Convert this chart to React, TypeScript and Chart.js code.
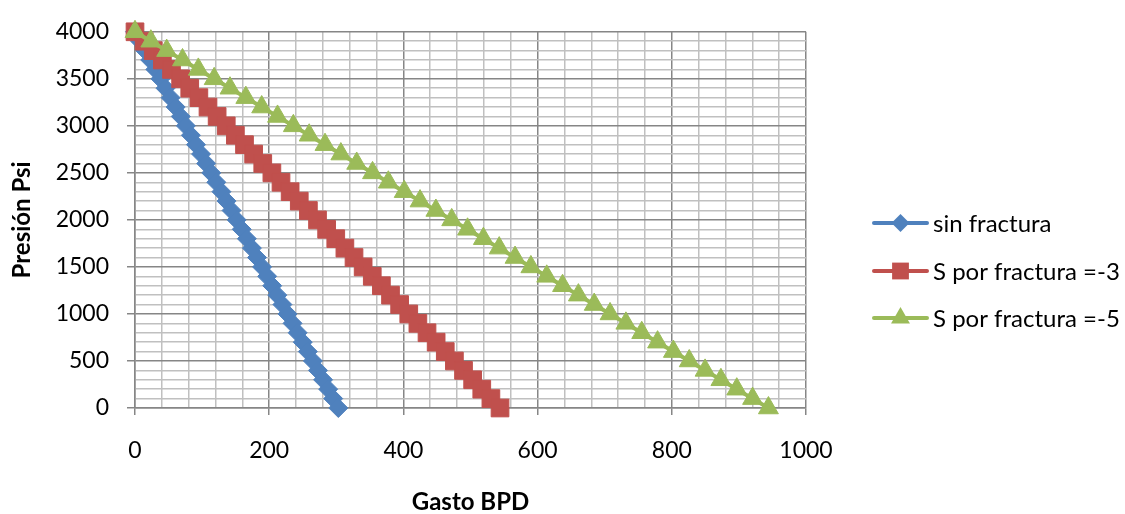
import React, { useEffect, useRef } from "react";
import { Chart, registerables } from "chart.js";

Chart.register(...registerables);

// Presión (psi) for each point, top to bottom
const presion = [
  4000, 3900, 3800, 3700, 3600, 3500, 3400, 3300, 3200, 3100,
  3000, 2900, 2800, 2700, 2600, 2500, 2400, 2300, 2200, 2100,
  2000, 1900, 1800, 1700, 1600, 1500, 1400, 1300, 1200, 1100,
  1000, 900, 800, 700, 600, 500, 400, 300, 200, 100, 0,
];

// Gasto (BPD) — sin fractura
const gastoSinFractura = [
  0, 7.6, 15.2, 22.7, 30.3, 37.9, 45.5, 53.0, 60.6, 68.2,
  75.8, 83.3, 90.9, 98.5, 106.1, 113.6, 121.2, 128.8, 136.4, 143.9,
  151.5, 159.1, 166.7, 174.2, 181.8, 189.4, 197.0, 204.5, 212.1, 219.7,
  227.3, 234.8, 242.4, 250.0, 257.6, 265.1, 272.7, 280.3, 287.9, 295.4, 303.0,
];

// Gasto (BPD) — S por fractura = -3
const gastoS3 = [
  0, 13.6, 27.2, 40.8, 54.4, 68.0, 81.6, 95.2, 108.8, 122.4,
  136.0, 149.6, 163.2, 176.8, 190.4, 204.0, 217.6, 231.2, 244.8, 258.4,
  272.0, 285.6, 299.2, 312.8, 326.4, 340.0, 353.6, 367.2, 380.8, 394.4,
  408.0, 421.6, 435.2, 448.8, 462.4, 476.0, 489.6, 503.2, 516.8, 530.4, 544.0,
];

// Gasto (BPD) — S por fractura = -5
const gastoS5 = [
  0, 23.6, 47.2, 70.8, 94.4, 118.0, 141.6, 165.2, 188.8, 212.4,
  236.0, 259.6, 283.2, 306.8, 330.4, 354.0, 377.6, 401.2, 424.8, 448.4,
  472.0, 495.6, 519.2, 542.8, 566.4, 590.0, 613.6, 637.2, 660.8, 684.4,
  708.0, 731.6, 755.2, 778.8, 802.4, 826.0, 849.6, 873.2, 896.8, 920.4, 944.0,
];

const seriesNames = ["sin fractura", "S por fractura =-3", "S por fractura =-5"];
const seriesColors = ["#4F81BD", "#C0504D", "#9BBB59"];
const seriesMarkers = ["rectRot", "rect", "triangle"];
const seriesRadius = [9.5, 12.5, 11.5];

const xTitle = "Gasto BPD";
const yTitle = "Presión Psi";
const xMajorStep = 200;
const xMinorStep = 40;
const yMajorStep = 500;
const yMinorStep = 100;

const FONT = "Lato, 'Open Sans', sans-serif";
const MAJOR = "#868686";
const MINOR = "#C0C0C0";

function drawMarker(ctx: CanvasRenderingContext2D, kind: string, x: number, y: number, r: number) {
  ctx.beginPath();
  if (kind === "rectRot") {
    ctx.moveTo(x - r, y);
    ctx.lineTo(x, y - r);
    ctx.lineTo(x + r, y);
    ctx.lineTo(x, y + r);
  } else if (kind === "rect") {
    const s = Math.SQRT1_2 * r;
    ctx.rect(x - s, y - s, 2 * s, 2 * s);
  } else {
    const h = r;
    ctx.moveTo(x, y - h);
    ctx.lineTo(x + Math.sin((2 * Math.PI) / 3) * h, y - Math.cos((2 * Math.PI) / 3) * h);
    ctx.lineTo(x + Math.sin((4 * Math.PI) / 3) * h, y - Math.cos((4 * Math.PI) / 3) * h);
  }
  ctx.closePath();
  ctx.fill();
}

const legendPlugin = {
  id: "customLegend",
  afterDraw(chart: any) {
    const ctx = chart.ctx as CanvasRenderingContext2D;
    const ys = [223, 271, 318];
    ctx.save();
    seriesNames.forEach((name, i) => {
      const y = ys[i];
      ctx.strokeStyle = seriesColors[i];
      ctx.lineWidth = 4;
      ctx.lineCap = "round";
      ctx.beginPath();
      ctx.moveTo(874, y);
      ctx.lineTo(927, y);
      ctx.stroke();
      ctx.fillStyle = seriesColors[i];
      drawMarker(ctx, seriesMarkers[i], 900.5, y, seriesRadius[i] * 0.95);
      ctx.fillStyle = "#000";
      ctx.font = `24px ${FONT}`;
      ctx.textBaseline = "middle";
      ctx.textAlign = "left";
      ctx.fillText(name, 933, y + 1);
    });
    ctx.restore();
  },
};

const isMajor = (v: number, step: number) => Math.abs(Math.round(v) % step) < 1e-6;

export default function App() {
  const canvasRef = useRef<HTMLCanvasElement | null>(null);

  useEffect(() => {
    document.body.style.margin = "0";
    const canvas = canvasRef.current;
    if (!canvas) return;
    const seriesX = [gastoSinFractura, gastoS3, gastoS5];
    const datasets = seriesNames.map((name, i) => ({
      label: name,
      data: presion.map((p, k) => ({ x: seriesX[i][k], y: p })),
      borderColor: seriesColors[i],
      backgroundColor: seriesColors[i],
      borderWidth: 4,
      pointStyle: seriesMarkers[i],
      pointRadius: seriesRadius[i],
      pointBorderWidth: 1,
      pointBorderColor: seriesColors[i],
      pointBackgroundColor: seriesColors[i],
      tension: 0,
      clip: false as any,
      order: 3 - i,
    }));

    const chart = new Chart(canvas, {
      type: "line",
      data: { datasets },
      plugins: [legendPlugin],
      options: {
        animation: false,
        responsive: false,
        maintainAspectRatio: false,
        layout: { padding: { left: 0, right: 319, top: 22, bottom: 0 } },
        plugins: { legend: { display: false }, tooltip: { enabled: false } },
        scales: {
          x: {
            type: "linear",
            min: 0,
            max: 1000,
            ticks: {
              stepSize: xMinorStep,
              autoSkip: false,
              maxRotation: 0,
              padding: 22,
              color: "#000",
              font: { family: FONT, size: 23 },
              callback: (v: any) => (isMajor(Number(v), xMajorStep) ? String(Math.round(Number(v))) : ""),
            },
            grid: {
              color: (c: any) => (isMajor(c.tick.value, xMajorStep) ? MAJOR : MINOR),
              tickColor: (c: any) => (isMajor(c.tick.value, xMajorStep) ? MAJOR : "rgba(0,0,0,0)"),
              lineWidth: 1.5,
              tickLength: 7,
              tickWidth: 1.5,
            },
            border: { color: MAJOR, width: 1.5 },
            title: {
              display: true,
              text: xTitle,
              color: "#000",
              font: { family: FONT, size: 24, weight: "bold", lineHeight: 1.0 },
              padding: { top: 0, bottom: 0 },
            },
            afterFit: (s: any) => {
              s.height = 106;
            },
          },
          y: {
            type: "linear",
            min: 0,
            max: 4000,
            ticks: {
              stepSize: yMinorStep,
              autoSkip: false,
              padding: 18,
              color: "#000",
              font: { family: FONT, size: 23 },
              callback: (v: any) => (isMajor(Number(v), yMajorStep) ? String(Math.round(Number(v))) : ""),
            },
            grid: {
              color: (c: any) => (isMajor(c.tick.value, yMajorStep) ? MAJOR : MINOR),
              tickColor: (c: any) => (isMajor(c.tick.value, yMajorStep) ? MAJOR : "rgba(0,0,0,0)"),
              lineWidth: 1.5,
              tickLength: 8,
              tickWidth: 1.5,
            },
            border: { color: MAJOR, width: 1.5 },
            title: {
              display: true,
              text: yTitle,
              color: "#000",
              font: { family: FONT, size: 24, weight: "bold", lineHeight: 1.0 },
              padding: { top: 10, bottom: 0 },
            },
            afterFit: (s: any) => {
              s.width = 135;
            },
          },
        },
      },
    });
    return () => chart.destroy();
  }, []);

  return (
    <div style={{ position: "absolute", left: 0, top: 0, width: 1125, height: 514, background: "#fff" }}>
      <canvas ref={canvasRef} width={1125} height={514} style={{ display: "block" }} />
    </div>
  );
}
